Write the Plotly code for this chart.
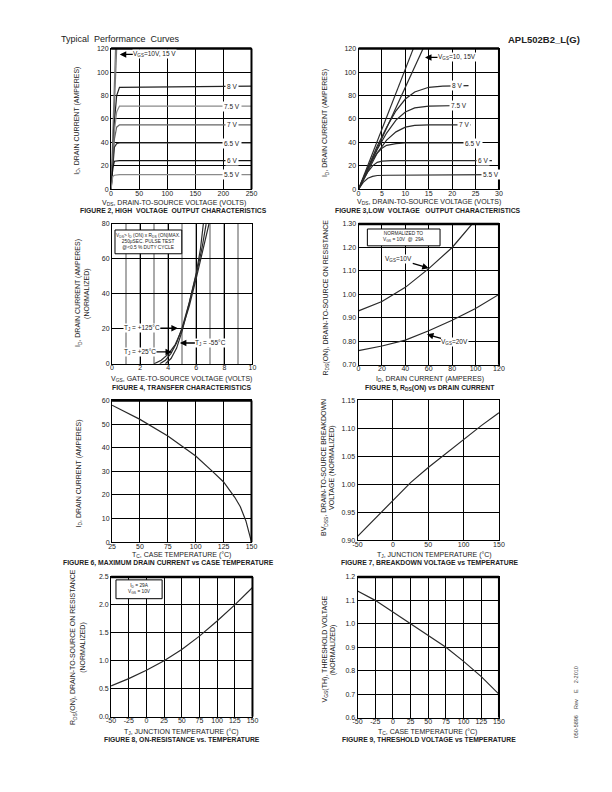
import plotly.graph_objects as go

W, H = 612, 792
FONT = "Liberation Sans, Arial, Helvetica, sans-serif"

# ---------------- DATA ----------------
# Figure 2 : high voltage output characteristics
f2_steep_x = [[0, 8.0], [0, 10.0]]
f2_steep_y = [[0, 120], [0, 120]]
f2_x = [0, 3, 6, 10, 15, 250]
f2_8v = [0, 30, 58, 80, 87, 88]
f2_75v = [0, 28, 50, 66, 71, 71]
f2_7v = [0, 25, 43, 53, 55, 55]
f2_65v = [0, 23, 36, 39, 39.5, 39.5]
f2_6v = [0, 18, 24, 24.5, 24.5, 24.5]
f2_55v = [0, 11, 12, 12.5, 12.5, 12.5]
f2_labels = ["8 V", "7.5 V", "7 V", "6.5 V", "6 V", "5.5 V"]
f2_label_y = [88, 71, 55, 39.5, 24.5, 12.5]

# Figure 3 : low voltage output characteristics
f3_15v_x = [0, 11.7]
f3_15v_y = [0, 120]
f3_10v_x = [0, 13.8]
f3_10v_y = [0, 120]
f3_8v_x = [0, 2, 4, 6, 8, 10, 12, 15, 18, 23.5]
f3_8v_y = [0, 19, 37, 53, 67, 77, 83, 87, 88, 88.5]
f3_75v_x = [0, 2, 4, 6, 8, 10, 12, 15, 22]
f3_75v_y = [0, 18, 34, 48, 59, 66, 69.5, 71, 71.5]
f3_7v_x = [0, 2, 4, 6, 8, 10, 12, 15, 24]
f3_7v_y = [0, 16, 31, 42, 49, 53, 54.5, 55, 55]
f3_65v_x = [0, 1, 2, 3, 4, 5, 6, 8, 10, 25]
f3_65v_y = [0, 9, 18, 25, 31, 35, 37.5, 39, 39.5, 39.5]
f3_6v_x = [0, 1, 2, 3, 4, 5, 7, 28.5]
f3_6v_y = [0, 8, 15, 20, 23, 24, 24.5, 24.5]
f3_55v_x = [0, 1, 2, 3, 4, 6, 30]
f3_55v_y = [0, 6, 9.5, 11, 11.8, 12, 12.5]
f3_labels = ["8 V", "7.5 V", "7 V", "6.5 V", "6 V", "5.5 V"]
f3_label_x = [21.0, 21.5, 22.5, 24.5, 26.5, 28.2]
f3_label_y = [88.5, 71.5, 55, 39.5, 24.5, 12.5]

# Figure 4 : transfer characteristics
f4_125_x = [3.0, 3.5, 4.0, 4.5, 5.0, 5.5, 6.0, 6.5, 6.9]
f4_125_y = [0, 2, 5.5, 11, 20, 33, 49, 66, 80]
f4_25_x = [3.4, 3.8, 4.2, 4.6, 5.0, 5.5, 6.0, 6.4, 6.7]
f4_25_y = [0, 2, 6, 12, 21, 35, 51, 66, 80]
f4_m55_x = [3.8, 4.2, 4.6, 5.0, 5.5, 6.0, 6.3, 6.5]
f4_m55_y = [0, 3, 9, 19, 35, 52, 66, 80]

# Figure 5 : RDS(on) vs drain current
f5_10v_x = [0, 20, 40, 60, 80, 97]
f5_10v_y = [0.93, 0.97, 1.03, 1.11, 1.20, 1.30]
f5_20v_x = [0, 20, 40, 60, 80, 100, 120]
f5_20v_y = [0.76, 0.78, 0.805, 0.845, 0.89, 0.94, 1.00]

# Figure 6 : max drain current vs case temperature
f6_x = [25, 50, 75, 100, 115, 125, 135, 140, 145, 148, 150]
f6_y = [58, 52, 45, 36.5, 30, 25.5, 19, 15, 9, 4, 0]

# Figure 7 : breakdown voltage vs temperature
f7_x = [-50, 0, 25, 50, 75, 100, 125, 150]
f7_y = [0.907, 0.972, 1.003, 1.03, 1.055, 1.08, 1.105, 1.128]

# Figure 8 : on-resistance vs temperature
f8_x = [-50, -25, 0, 25, 50, 75, 100, 125, 150]
f8_y = [0.55, 0.68, 0.83, 1.0, 1.2, 1.44, 1.71, 2.0, 2.31]

# Figure 9 : threshold voltage vs temperature
f9_x = [-50, -25, 0, 25, 50, 75, 100, 125, 150]
f9_y = [1.14, 1.10, 1.05, 1.0, 0.95, 0.90, 0.84, 0.775, 0.70]

# ---------------- LAYOUT HELPERS ----------------
def px(xp, yp):
    return xp / W, 1 - yp / H

panels = [
    # id, x px, y px (top,bottom), xrange, yrange, xticks, xlabels, yticks, ylabels
    (1, (108, 251), (45, 187), [0, 250], [0, 120], [0, 50, 100, 150, 200, 250], None, [0, 20, 40, 60, 80, 100, 120], None),
    (2, (360, 503), (45, 187), [0, 30], [0, 120], [0, 5, 10, 15, 20, 25, 30], None, [0, 20, 40, 60, 80, 100, 120], None),
    (3, (109, 252), (222, 363), [0, 10], [0, 80], [0, 2, 4, 6, 8, 10], None, [0, 20, 40, 60, 80], None),
    (4, (360, 503), (222, 364), [0, 120], [0.70, 1.30], [0, 20, 40, 60, 80, 100, 120], None,
     [0.7, 0.8, 0.9, 1.0, 1.1, 1.2, 1.3], ["0.70", "0.80", "0.90", "1.00", "1.10", "1.20", "1.30"]),
    (5, (109, 251), (400, 543), [25, 150], [0, 60], [25, 50, 75, 100, 125, 150], None, [0, 10, 20, 30, 40, 50, 60], None),
    (6, (359, 503), (400, 541), [-50, 150], [0.90, 1.15], [-50, 0, 50, 100, 150], None,
     [0.90, 0.95, 1.0, 1.05, 1.10, 1.15], ["0.90", "0.95", "1.00", "1.05", "1.10", "1.15"]),
    (7, (108, 252), (578, 719), [-50, 150], [0, 2.5], [-50, -25, 0, 25, 50, 75, 100, 125, 150], None,
     [0, 0.5, 1.0, 1.5, 2.0, 2.5], ["0.0", "0.5", "1.0", "1.5", "2.0", "2.5"]),
    (8, (359, 503), (578, 720), [-50, 150], [0.6, 1.2], [-50, -25, 0, 25, 50, 75, 100, 125, 150], None,
     [0.6, 0.7, 0.8, 0.9, 1.0, 1.1, 1.2], ["0.6", "0.7", "0.8", "0.9", "1.0", "1.1", "1.2"]),
]

fig = go.Figure()
layout = dict(width=W, height=H, margin=dict(l=0, r=0, t=0, b=0),
              paper_bgcolor="white", plot_bgcolor="white", showlegend=False,
              font=dict(family=FONT, color="#222"))
shapes = []
for (i, xp, yp, xr, yr, xt, xl, yt, yl) in panels:
    sx = "" if i == 1 else str(i)
    ax = dict(domain=[xp[0] / W, xp[1] / W], range=xr, anchor="y" + sx,
              showline=True, linecolor="black", linewidth=1, mirror=True,
              showgrid=True, gridcolor="black", gridwidth=1, zeroline=False,
              ticks="", tickmode="array", tickvals=xt,
              ticktext=xl if xl else [str(v) for v in xt],
              ticklabelstandoff=-3,
              tickfont=dict(size=7, color="#222"), fixedrange=True)
    ay = dict(domain=[1 - yp[1] / H, 1 - yp[0] / H], range=yr, anchor="x" + sx,
              showline=True, linecolor="black", linewidth=1, mirror=True,
              showgrid=True, gridcolor="black", gridwidth=1, zeroline=False,
              ticks="", tickmode="array", tickvals=yt,
              ticktext=yl if yl else [str(v) for v in yt],
              tickfont=dict(size=7, color="#222"), fixedrange=True)
    if i == 3:
        ax.update(minor=dict(dtick=1, showgrid=True, gridcolor="#aaaaaa", gridwidth=2, tick0=0))
    layout["xaxis" + sx] = ax
    layout["yaxis" + sx] = ay
    if i != 3 and i != 6:
        shapes.append(dict(type="line", xref="x" + sx + " domain", yref="y" + sx + " domain",
                           x0=0, x1=1, y0=1, y1=1, line=dict(color="black", width=2.5)))
        shapes.append(dict(type="line", xref="x" + sx + " domain", yref="y" + sx + " domain",
                           x0=1, x1=1, y0=0, y1=1, line=dict(color="black", width=2)))


def line(x, y, ax_id, color="#2a2a2a", width=1.2):
    sx = "" if ax_id == 1 else str(ax_id)
    fig.add_trace(go.Scatter(x=x, y=y, mode="lines", xaxis="x" + sx, yaxis="y" + sx,
                             line=dict(color=color, width=width), hoverinfo="skip",
                             showlegend=False))


# Figure 2
for xs, ys in zip(f2_steep_x, f2_steep_y):
    line(xs, ys, 1, "#777777")
f2_cols = ["#222222", "#8a8a8a", "#666666", "#333333", "#111111", "#8a8a8a"]
for ys, c in zip([f2_8v, f2_75v, f2_7v, f2_65v, f2_6v, f2_55v], f2_cols):
    line(f2_x, ys, 1, c)
# Figure 3
line(f3_15v_x, f3_15v_y, 2)
line(f3_10v_x, f3_10v_y, 2)
for xs, ys in [(f3_8v_x, f3_8v_y), (f3_75v_x, f3_75v_y), (f3_7v_x, f3_7v_y),
               (f3_65v_x, f3_65v_y), (f3_6v_x, f3_6v_y), (f3_55v_x, f3_55v_y)]:
    line(xs, ys, 2)
# Figure 4
line(f4_125_x, f4_125_y, 3)
line(f4_25_x, f4_25_y, 3)
line(f4_m55_x, f4_m55_y, 3)
# Figure 5
line(f5_10v_x, f5_10v_y, 4)
line(f5_20v_x, f5_20v_y, 4)
# Figures 6-9
line(f6_x, f6_y, 5)
line(f7_x, f7_y, 6)
line(f8_x, f8_y, 7)
line(f9_x, f9_y, 8)

ann = []


def ptext(text, xp, yp, size=7, bold=False, angle=0, xanchor="center", color="#222"):
    x, y = px(xp, yp)
    t = "<b>" + text + "</b>" if bold else text
    ann.append(dict(text=t, x=x, y=y, xref="paper", yref="paper", showarrow=False,
                    xanchor=xanchor, yanchor="middle", textangle=angle, borderpad=0,
                    font=dict(size=size, color=color, family=FONT)))


def dtext(text, x, y, ax_id, size=6.5, bg="white", xanchor="center"):
    sx = "" if ax_id == 1 else str(ax_id)
    ann.append(dict(text=text, x=x, y=y, xref="x" + sx, yref="y" + sx, showarrow=False,
                    bgcolor=bg, borderpad=1, xanchor=xanchor, yanchor="middle",
                    font=dict(size=size, color="#222", family=FONT)))


def arrow(text, x, y, ax_id, dx, dy, size=6.5):
    sx = "" if ax_id == 1 else str(ax_id)
    ann.append(dict(text=text, x=x, y=y, xref="x" + sx, yref="y" + sx, showarrow=True,
                    ax=dx, ay=dy, arrowhead=2, arrowsize=1, arrowwidth=1.3,
                    arrowcolor="black", bgcolor="white", borderpad=0,
                    xanchor="center", yanchor="middle",
                    font=dict(size=size, color="#222", family=FONT)))


def box(lines_, xp0, yp0, xp1, yp1, size=5):
    x0, y0 = px(xp0, yp0)
    x1, y1 = px(xp1, yp1)
    shapes.append(dict(type="rect", xref="paper", yref="paper", x0=x0, x1=x1, y0=y1, y1=y0,
                       line=dict(color="black", width=1), fillcolor="white", layer="above"))
    ann.append(dict(text="<br>".join(lines_), x=(x0 + x1) / 2, y=(y0 + y1) / 2,
                    xref="paper", yref="paper", showarrow=False, align="center",
                    xanchor="center", yanchor="middle", borderpad=0,
                    font=dict(size=size, color="#222", family=FONT)))


# headers
ptext("Typical  Performance  Curves", 56, 35, size=9, xanchor="left")
ptext("APL502B2_L(G)", 587, 36, size=9.5, bold=True, xanchor="right")
ptext("050-5896    Rev    E    2-2010", 581, 705, size=5.5, angle=-90, color="#444")

# Fig 2 texts
for lab, yv in zip(f2_labels, f2_label_y):
    dtext(lab, 216, yv, 1)
arrow("V<sub>GS</sub>=10V, 15 V", 15.5, 115, 1, 35, 0)
ptext("I<sub>D</sub>, DRAIN CURRENT (AMPERES)", 73, 118, angle=-90)
ptext("V<sub>DS</sub>, DRAIN-TO-SOURCE VOLTAGE (VOLTS)", 172, 201)
ptext("FIGURE 2, HIGH  VOLTAGE  OUTPUT CHARACTERISTICS", 172, 209, size=6.8, bold=True)

# Fig 3 texts
for lab, xv, yv in zip(f3_labels, f3_label_x, f3_label_y):
    dtext(lab, xv, yv, 2)
arrow("V<sub>GS</sub>=10, 15V", 14.2, 112.5, 2, 32, 0)
ptext("I<sub>D</sub>, DRAIN CURRENT (AMPERES)", 326, 120, angle=-90)
ptext("V<sub>DS</sub>, DRAIN-TO-SOURCE VOLTAGE (VOLTS)", 432, 200)
ptext("FIGURE 3,LOW  VOLTAGE   OUTPUT CHARACTERISTICS", 431, 209, size=6.8, bold=True)

# Fig 4 texts
box(["V<sub>DS</sub>> I<sub>D</sub> (ON) x R<sub>DS</sub> (ON)MAX.", "250μSEC. PULSE TEST",
     "@<0.5 % DUTY CYCLE"], 112, 228, 180, 252, size=4.8)
arrow("T<sub>J</sub> = +125°C", 4.69, 20.4, 3, -36, 0)
arrow("T<sub>J</sub> = +25°C", 4.27, 6.8, 3, -32, 0)
arrow("T<sub>J</sub> = -55°C", 4.83, 11.9, 3, 31, 0)
ptext("I<sub>D</sub>, DRAIN CURRENT (AMPERES)", 75, 292, angle=-90)
ptext("(NORMALIZED)", 84, 292, angle=-90)
ptext("V<sub>GS</sub>, GATE-TO-SOURCE VOLTAGE (VOLTS)", 180, 378)
ptext("FIGURE 4, TRANSFER CHARACTERISTICS", 180, 387, size=6.8, bold=True)

# Fig 5 texts
box(["NORMALIZED TO", "V<sub>GS</sub> = 10V  @  29A"], 369, 227, 443, 244, size=4.8)
arrow("V<sub>GS</sub>=10V", 60, 1.112, 4, -30, -9)
arrow("V<sub>GS</sub>=20V", 58.5, 0.83, 4, 28, 8)
ptext("R<sub>DS</sub>(ON), DRAIN-TO-SOURCE ON RESISTANCE", 327, 296, angle=-90)
ptext("I<sub>D</sub>, DRAIN CURRENT (AMPERES)", 433, 378)
ptext("FIGURE 5, R<sub>DS</sub>(ON) vs DRAIN CURRENT", 433, 387, size=6.8, bold=True)

# Fig 6 texts
ptext("I<sub>D</sub>, DRAIN CURRENT (AMPERES)", 75, 474, angle=-90)
ptext("T<sub>C</sub>, CASE TEMPERATURE (°C)", 180, 556)
ptext("FIGURE 6, MAXIMUM DRAIN CURRENT vs CASE TEMPERATURE", 166, 564, size=6.8, bold=True)

# Fig 7 texts
ptext("BV<sub>DSS</sub>, DRAIN-TO-SOURCE BREAKDOWN", 325, 468, angle=-90)
ptext("VOLTAGE (NORMALIZED)", 333, 468, angle=-90)
ptext("T<sub>J</sub>, JUNCTION TEMPERATURE (°C)", 437, 556)
ptext("FIGURE 7, BREAKDOWN VOLTAGE vs TEMPERATURE", 433, 564, size=6.8, bold=True)

# Fig 8 texts
box(["I<sub>D</sub> = 29A", "V<sub>GS</sub> = 10V"], 113, 581, 160, 600, size=4.8)
ptext("R<sub>DS</sub>(ON), DRAIN-TO-SOURCE ON RESISTANCE", 70, 649, angle=-90)
ptext("(NORMALIZED)", 80, 649, angle=-90)
ptext("T<sub>J</sub>, JUNCTION TEMPERATURE (°C)", 180, 734)
ptext("FIGURE 8, ON-RESISTANCE vs. TEMPERATURE", 180, 743, size=6.8, bold=True)

# Fig 9 texts
ptext("V<sub>GS</sub>(TH), THRESHOLD VOLTAGE", 326, 651, angle=-90)
ptext("(NORMALIZED)", 334, 651, angle=-90)
ptext("T<sub>C</sub>, CASE TEMPERATURE (°C)", 430, 734)
ptext("FIGURE 9, THRESHOLD VOLTAGE vs TEMPERATURE", 432, 743, size=6.8, bold=True)

layout["shapes"] = shapes
layout["annotations"] = ann
fig.update_layout(**layout)
fig.write_html("out.html")
